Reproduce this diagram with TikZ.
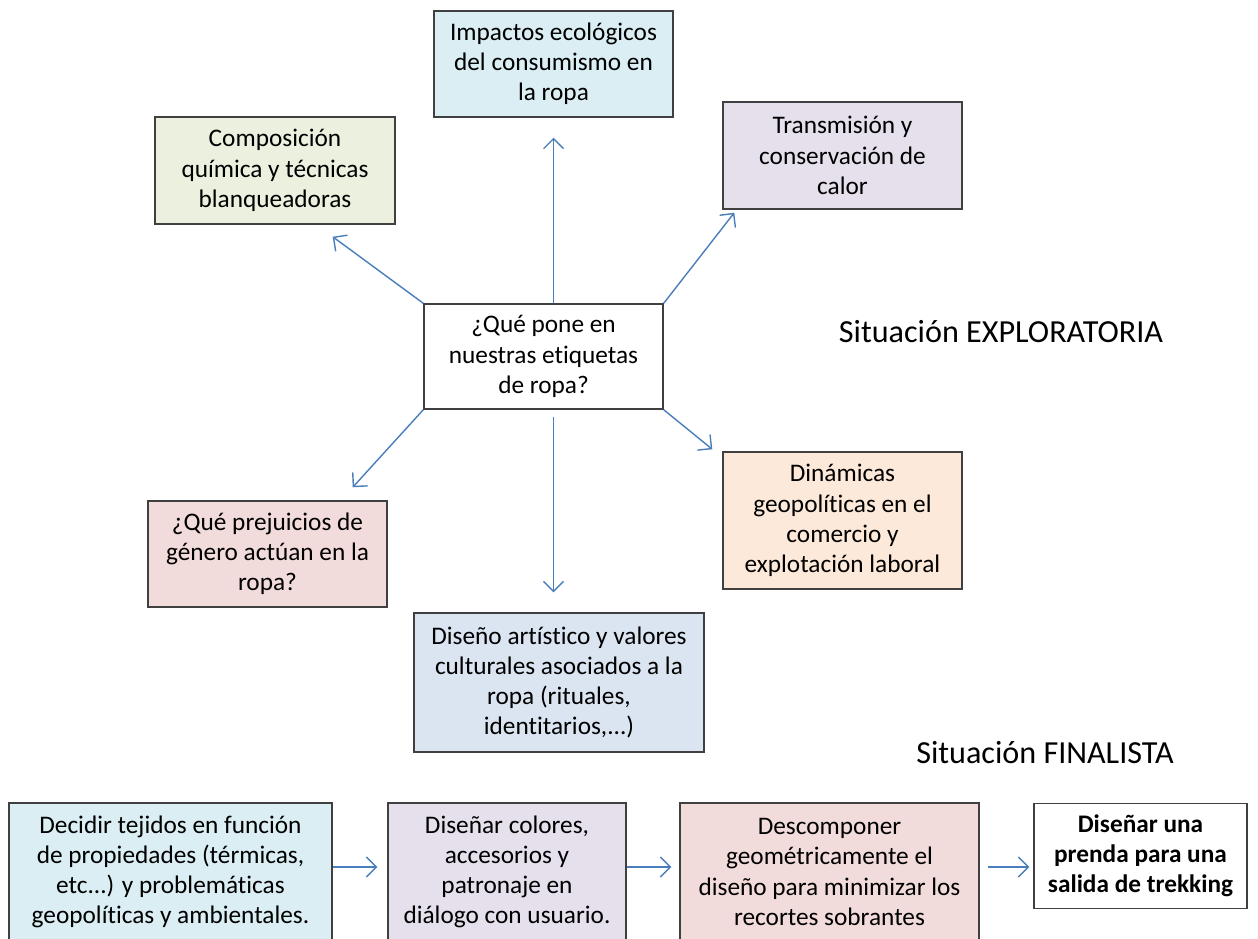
\documentclass[tikz,border=0pt]{standalone}
\usepackage{fontspec}
\setmainfont{Carlito}[Ligatures=NoCommon, Contextuals=NoAlternate]
\definecolor{lineblue}{HTML}{4A7EBB}
\definecolor{edge}{HTML}{404040}
\definecolor{iceblue}{HTML}{DAEEF3}
\definecolor{sage}{HTML}{EBF1DE}
\definecolor{lilac}{HTML}{E5E0EC}
\definecolor{peach}{HTML}{FDE9D9}
\definecolor{rose}{HTML}{F2DCDB}
\definecolor{steel}{HTML}{DBE5F1}
\usetikzlibrary{calc, positioning, arrows.meta}

\begin{document}
\begin{tikzpicture}[x=0.02cm, y=-0.02cm,
  topic/.style={draw=edge, line width=0.85pt, align=center, inner sep=2pt,
                font=\fontsize{14.4}{17.2}\selectfont},
  link/.style={draw=lineblue, line width=0.8pt,
               -{Straight Barb[length=2mm, width=4mm]}},
  stage/.style={font=\fontsize{18.3}{22}\selectfont, inner sep=0pt},
]
\clip (0,0) rectangle (1258,938);

\node[topic, fill=white, minimum width=4.78cm, minimum height=2.1cm] (q) at (543.5,356.5) {
  ¿Qué pone en\\nuestras etiquetas\\de ropa?
};
\node[topic, fill=iceblue, minimum width=4.78cm, minimum height=2.12cm] (imp) at (553.5,64) {
  Impactos ecológicos\\del consumismo en\\la ropa
};
\node[topic, fill=sage, minimum width=4.8cm, minimum height=2.14cm] (comp) at (275,170.5) {
  Composición\\química y técnicas\\blanqueadoras
};
\node[topic, fill=lilac, minimum width=4.78cm, minimum height=2.14cm] (trans) at (842.5,155.5) {
  Transmisión y\\conservación de\\calor
};
\node[topic, fill=peach, minimum width=4.78cm, minimum height=2.74cm] (din) at (842.5,520.5) {
  Dinámicas\\geopolíticas en el\\comercio y\\explotación laboral
};
\node[topic, fill=rose, minimum width=4.78cm, minimum height=2.12cm] (prej) at (267.5,554) {
  ¿Qué prejuicios de\\género actúan en la\\ropa?
};
\node[topic, fill=steel, minimum width=5.8cm, minimum height=2.78cm] (dis) at (559,682.5) {
  Diseño artístico y valores\\culturales asociados a la\\ropa (rituales,\\identitarios,...)
};

\node[stage] (expl) at (1001,332) {Situación EXPLORATORIA};
\node[stage] (fin) at (1045,753) {Situación FINALISTA};

\node[topic, fill=iceblue, minimum width=6.46cm, minimum height=2.76cm] (b1) at (170.5,872) {
  Decidir tejidos en función\\de propiedades (térmicas,\\etc...) y problemáticas\\geopolíticas y ambientales.
};
\node[topic, fill=lilac, minimum width=4.76cm, minimum height=2.76cm] (b2) at (507,872) {
  Diseñar colores,\\accesorios y\\patronaje en\\diálogo con usuario.
};
\node[topic, fill=rose, minimum width=5.98cm, minimum height=2.76cm] (b3) at (829.5,872) {
  Descomponer\\geométricamente el\\diseño para minimizar los\\recortes sobrantes
};
\node[topic, fill=white, minimum width=4.26cm, minimum height=2.1cm] (b4) at (1140.5,856) {
  \textbf{Diseñar una}\\\textbf{prenda para una}\\\textbf{salida de trekking}
};

\draw[link] (q.north -| imp.south) -- ($(imp.south)+(0,20)$);
\draw[link] ($(q.south -| imp.south)+(0,7)$) -- ($(dis.north -| imp.south)+(0,-20)$);
\draw[link] (q.north west) -- ($(comp.south east)+(-63,12)$);
\draw[link] (q.north east) -- ($(trans.south west)+(12,3)$);
\draw[link] (q.south west) -- ($(prej.north east)+(-35,-13)$);
\draw[link] (q.south east) -- ($(din.north west)+(-10,-2)$);

\coordinate (lane) at (0,867);
\draw[link] (b1.east |- lane) -- ($(b2.west |- lane)+(-10,0)$);
\draw[link] (b2.east |- lane) -- ($(b3.west |- lane)+(-8,0)$);
\draw[link] ($(b3.east |- lane)+(8,0)$) -- ($(b4.west |- lane)+(-4,0)$);
\end{tikzpicture}
\end{document}
